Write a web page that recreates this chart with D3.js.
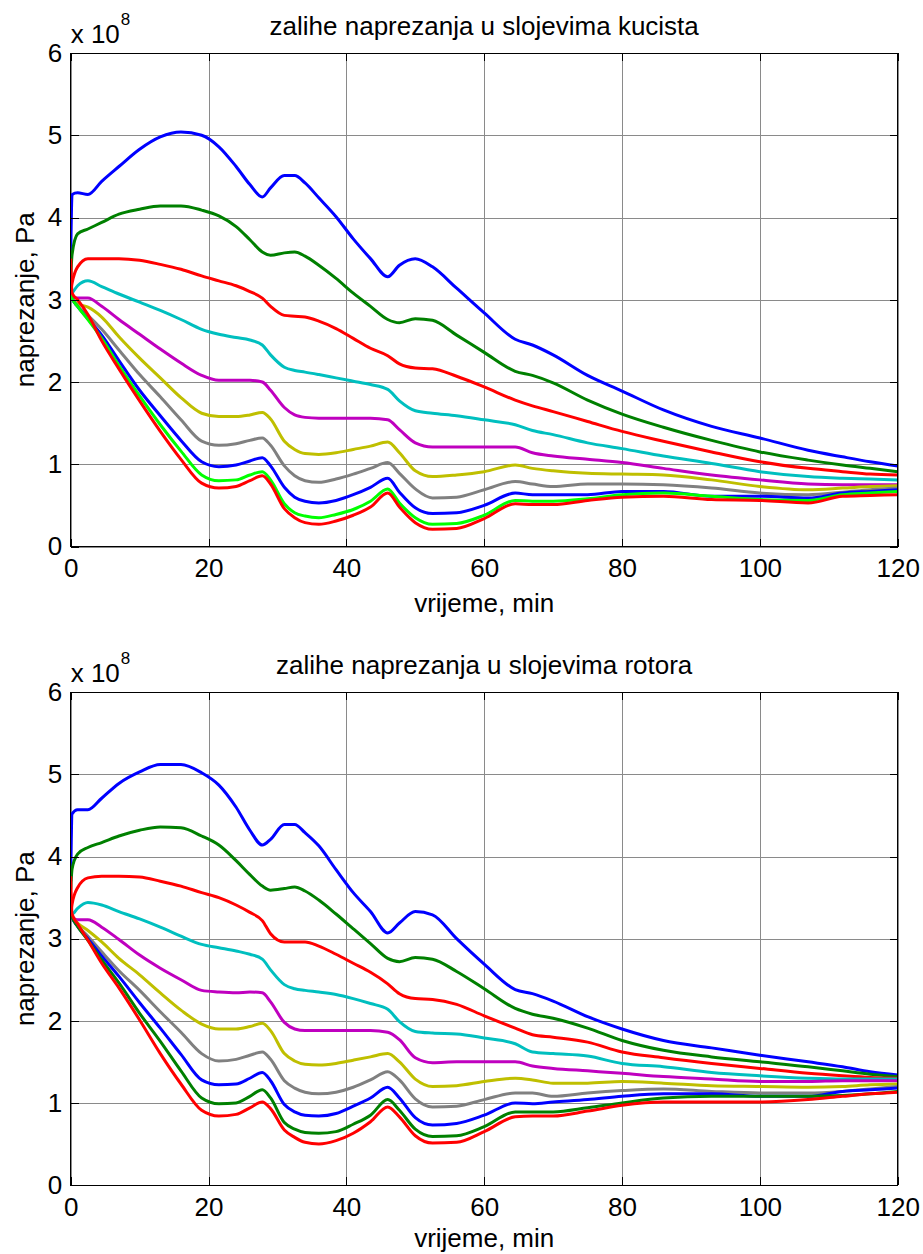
<!DOCTYPE html>
<html><head><meta charset="utf-8">
<script src="https://cdn.jsdelivr.net/npm/d3@7"></script>
<style>
body{margin:0;background:#fff}
svg{display:block}
text{font-family:"Liberation Sans",Arial,Helvetica,sans-serif;fill:#000}
</style>
</head><body>
<svg id="chart" width="923" height="1254"></svg>
<script>
// ---- data ----
const timeMin = [0,0.2,1,2.5,4.5,7,10,13,16,19,21.5,24,26,27.8,29,31,32.5,34,36,38.5,41,43.5,46,47.7,50,52.5,56,60,64.5,67,70,75,80,86,93,100,107,112,116,120];
const xTicks = [0,20,40,60,80,100,120];
const yTicks = [0,1,2,3,4,5,6];
const titleKucista = "zalihe naprezanja u slojevima kucista";
const titleRotor = "zalihe naprezanja u slojevima rotora";
const xLabel = "vrijeme, min";
const yLabel = "naprezanje, Pa";
const yExponent = "8";

// casing layers (x 1e8 Pa)
const kuc1 = [3.5,4.28,4.30,4.28,4.44,4.62,4.83,4.98,5.04,5.00,4.86,4.62,4.40,4.25,4.36,4.51,4.51,4.42,4.24,4.01,3.74,3.50,3.28,3.42,3.50,3.40,3.14,2.84,2.52,2.45,2.33,2.08,1.89,1.66,1.46,1.32,1.17,1.09,1.03,0.98];
const kuc2 = [3.25,3.55,3.80,3.86,3.94,4.04,4.10,4.14,4.14,4.09,4.02,3.89,3.73,3.58,3.54,3.57,3.58,3.53,3.42,3.26,3.08,2.92,2.76,2.72,2.77,2.75,2.57,2.36,2.13,2.08,1.99,1.78,1.61,1.45,1.29,1.15,1.05,0.99,0.95,0.91];
const kuc3 = [3.10,3.20,3.40,3.50,3.50,3.50,3.48,3.43,3.37,3.29,3.23,3.17,3.10,3.02,2.92,2.81,2.80,2.79,2.74,2.65,2.53,2.41,2.32,2.22,2.17,2.16,2.07,1.94,1.78,1.71,1.64,1.52,1.40,1.28,1.15,1.03,0.95,0.91,0.88,0.87];
const kuc4 = [3.06,3.08,3.17,3.23,3.16,3.07,2.97,2.87,2.76,2.64,2.58,2.54,2.51,2.45,2.33,2.18,2.14,2.12,2.09,2.05,2.01,1.97,1.91,1.77,1.65,1.62,1.59,1.54,1.48,1.41,1.36,1.26,1.19,1.10,1.01,0.91,0.85,0.83,0.82,0.81];
const kuc5 = [3.08,3.04,3.02,3.02,2.92,2.76,2.58,2.40,2.23,2.08,2.02,2.02,2.02,2.00,1.90,1.69,1.60,1.57,1.56,1.56,1.56,1.56,1.54,1.42,1.26,1.21,1.21,1.21,1.21,1.14,1.10,1.06,1.02,0.95,0.87,0.81,0.76,0.75,0.75,0.75];
const kuc6 = [3.08,3.02,2.95,2.91,2.79,2.55,2.29,2.05,1.81,1.62,1.58,1.58,1.60,1.63,1.55,1.28,1.18,1.13,1.12,1.14,1.18,1.22,1.27,1.14,0.92,0.85,0.87,0.91,0.99,0.95,0.92,0.89,0.88,0.87,0.81,0.73,0.69,0.71,0.73,0.74];
const kuc7 = [3.08,3.02,2.92,2.81,2.64,2.39,2.09,1.82,1.54,1.28,1.23,1.25,1.29,1.32,1.23,0.98,0.86,0.80,0.78,0.82,0.88,0.95,1.02,0.89,0.70,0.59,0.60,0.69,0.79,0.76,0.73,0.76,0.76,0.75,0.71,0.65,0.63,0.66,0.69,0.71];
const kuc8 = [3.08,3.02,2.92,2.77,2.57,2.26,1.90,1.59,1.29,1.03,0.97,0.99,1.04,1.08,0.98,0.72,0.60,0.55,0.53,0.56,0.63,0.72,0.83,0.66,0.47,0.40,0.41,0.50,0.65,0.63,0.63,0.63,0.67,0.67,0.61,0.61,0.59,0.65,0.67,0.69];
const kuc9 = [3.08,3.02,2.92,2.76,2.53,2.20,1.83,1.48,1.16,0.87,0.80,0.81,0.87,0.91,0.81,0.52,0.41,0.37,0.35,0.39,0.45,0.55,0.70,0.53,0.35,0.27,0.28,0.38,0.56,0.55,0.55,0.58,0.63,0.65,0.61,0.57,0.56,0.63,0.65,0.67];
const kuc10 = [3.50,3.08,3.00,2.82,2.50,2.16,1.77,1.40,1.06,0.77,0.71,0.73,0.80,0.86,0.76,0.46,0.35,0.29,0.27,0.31,0.38,0.48,0.65,0.48,0.29,0.21,0.22,0.34,0.52,0.51,0.51,0.56,0.60,0.61,0.57,0.56,0.53,0.61,0.62,0.63];

// rotor layers (x 1e8 Pa)
const rot1 = [3.70,4.52,4.57,4.57,4.71,4.89,5.03,5.12,5.12,5.02,4.87,4.60,4.32,4.14,4.21,4.39,4.39,4.29,4.13,3.84,3.56,3.33,3.07,3.19,3.33,3.29,3.00,2.69,2.38,2.33,2.24,2.05,1.90,1.76,1.67,1.58,1.50,1.44,1.38,1.34];
const rot2 = [3.60,3.85,4.03,4.11,4.17,4.25,4.32,4.36,4.35,4.25,4.14,3.95,3.78,3.64,3.59,3.61,3.63,3.58,3.47,3.30,3.12,2.94,2.76,2.72,2.77,2.75,2.60,2.39,2.15,2.08,2.03,1.91,1.76,1.64,1.56,1.50,1.44,1.39,1.35,1.32];
const rot3 = [3.31,3.42,3.62,3.74,3.76,3.76,3.75,3.70,3.64,3.56,3.50,3.41,3.32,3.22,3.06,2.96,2.96,2.96,2.91,2.81,2.70,2.59,2.45,2.33,2.27,2.26,2.20,2.06,1.91,1.83,1.80,1.74,1.62,1.55,1.48,1.42,1.36,1.33,1.31,1.30];
const rot4 = [3.31,3.30,3.37,3.44,3.41,3.33,3.24,3.14,3.03,2.93,2.89,2.85,2.81,2.75,2.62,2.44,2.39,2.37,2.35,2.32,2.27,2.21,2.14,1.99,1.87,1.85,1.84,1.79,1.72,1.62,1.60,1.57,1.48,1.44,1.37,1.33,1.30,1.29,1.29,1.29];
const rot5 = [3.31,3.27,3.23,3.23,3.14,2.99,2.80,2.64,2.50,2.37,2.35,2.34,2.35,2.34,2.23,1.98,1.90,1.88,1.88,1.88,1.88,1.88,1.86,1.77,1.55,1.49,1.50,1.50,1.50,1.45,1.42,1.39,1.36,1.32,1.29,1.26,1.26,1.27,1.27,1.27];
const rot6 = [3.31,3.27,3.19,3.10,2.96,2.76,2.56,2.34,2.13,1.96,1.90,1.90,1.93,1.97,1.88,1.60,1.51,1.47,1.46,1.48,1.52,1.56,1.60,1.50,1.29,1.20,1.21,1.26,1.30,1.28,1.24,1.24,1.26,1.24,1.21,1.20,1.19,1.20,1.22,1.23];
const rot7 = [3.31,3.26,3.16,3.03,2.84,2.61,2.37,2.11,1.86,1.60,1.51,1.53,1.58,1.62,1.53,1.27,1.18,1.13,1.11,1.13,1.19,1.28,1.38,1.28,1.05,0.95,0.96,1.04,1.12,1.12,1.08,1.12,1.15,1.17,1.14,1.12,1.12,1.14,1.17,1.20];
const rot8 = [3.31,3.26,3.15,3.00,2.79,2.54,2.22,1.91,1.59,1.28,1.22,1.23,1.30,1.37,1.27,0.98,0.89,0.85,0.84,0.87,0.96,1.06,1.19,1.06,0.82,0.73,0.75,0.85,1.00,0.99,1.01,1.04,1.08,1.11,1.11,1.08,1.08,1.14,1.16,1.18];
const rot9 = [3.31,3.26,3.15,2.98,2.74,2.46,2.09,1.75,1.39,1.06,0.99,1.00,1.08,1.16,1.06,0.76,0.68,0.64,0.63,0.65,0.74,0.85,1.04,0.91,0.68,0.59,0.60,0.71,0.89,0.89,0.89,0.94,1.00,1.06,1.08,1.08,1.08,1.09,1.11,1.14];
const rot10 = [3.76,3.30,3.18,2.98,2.70,2.40,2.01,1.60,1.23,0.91,0.84,0.86,0.94,1.01,0.93,0.67,0.58,0.52,0.50,0.54,0.63,0.77,0.95,0.83,0.60,0.51,0.52,0.65,0.83,0.84,0.84,0.90,0.97,1.01,1.01,1.01,1.04,1.08,1.11,1.13];

const coloursKucista = ["#0000ff","#008000","#ff0000","#00bfbf","#bf00bf","#bfbf00","#808080","#0000ff","#00ff00","#ff0000"];
const coloursRotor   = ["#0000ff","#008000","#ff0000","#00bfbf","#bf00bf","#bfbf00","#808080","#0000ff","#008000","#ff0000"];

// ---- drawing ----
const svg = d3.select("#chart");
const left = 70.7, right = 897.7;
const FS = 26;
const fmtInt = d3.format("d");

function panel(id, top, bottom, title, seriesList, colours, xlabOffset){
  const g = svg.append("g");
  const x = d3.scaleLinear().domain([0,120]).range([left,right]);
  const y = d3.scaleLinear().domain([0,6]).range([bottom,top]);
  const h = bottom - top, w = right - left;

  // grid
  g.append("g").attr("transform",`translate(0,${bottom})`)
    .call(d3.axisBottom(x).tickValues(xTicks).tickSize(-h).tickFormat(""))
    .call(a=>{a.select(".domain").remove(); a.selectAll("line").attr("stroke","#8a8a8a").attr("stroke-width",1).attr("shape-rendering","crispEdges");});
  g.append("g").attr("transform",`translate(${left},0)`)
    .call(d3.axisLeft(y).tickValues(yTicks).tickSize(-w).tickFormat(""))
    .call(a=>{a.select(".domain").remove(); a.selectAll("line").attr("stroke","#8a8a8a").attr("stroke-width",1).attr("shape-rendering","crispEdges");});

  // lines
  g.append("clipPath").attr("id","clip"+id).append("rect")
    .attr("x",left).attr("y",top-2).attr("width",w+2).attr("height",h+4);
  const line = d3.line().x((d,i)=>x(timeMin[i])).y(d=>y(d)).curve(d3.curveMonotoneX);
  const lg = g.append("g").attr("clip-path",`url(#clip${id})`);
  seriesList.forEach((s,k)=>{
    lg.append("path").attr("d",line(s)).attr("fill","none")
      .attr("stroke",colours[k]).attr("stroke-width",3).attr("stroke-linejoin","round");
  });

  // box
  g.append("rect").attr("x",left).attr("y",top).attr("width",w).attr("height",h)
    .attr("fill","none").attr("stroke","#000").attr("stroke-width",1).attr("shape-rendering","crispEdges");

  // axes with inward ticks
  const styleAxis = a=>{a.select(".domain").remove(); a.selectAll("line").attr("stroke","#000").attr("shape-rendering","crispEdges"); a.selectAll("text").attr("font-size",FS).attr("font-family",null);};
  g.append("g").attr("transform",`translate(0,${bottom})`)
    .call(d3.axisBottom(x).tickValues(xTicks).tickFormat(fmtInt).tickSizeInner(-8).tickSizeOuter(0).tickPadding(12.5)).call(styleAxis);
  g.append("g").attr("transform",`translate(${left},0)`)
    .call(d3.axisLeft(y).tickValues(yTicks).tickFormat(fmtInt).tickSizeInner(-8).tickSizeOuter(0).tickPadding(8.5)).call(styleAxis);
  g.append("g").attr("transform",`translate(0,${top})`)
    .call(d3.axisTop(x).tickValues(xTicks).tickSizeInner(-8).tickSizeOuter(0).tickFormat("")).call(styleAxis);
  g.append("g").attr("transform",`translate(${right},0)`)
    .call(d3.axisRight(y).tickValues(yTicks).tickSizeInner(-8).tickSizeOuter(0).tickFormat("")).call(styleAxis);

  // title
  g.append("text").attr("x",(left+right)/2).attr("y",top-18.5).attr("text-anchor","middle")
    .attr("font-size",FS).text(title);
  // exponent
  g.append("text").attr("x",left).attr("y",top-10).attr("font-size",FS).text("x 10");
  g.append("text").attr("x",left+50).attr("y",top-28.5).attr("font-size",17).text(yExponent);
  // x label
  g.append("text").attr("x",(left+right)/2).attr("y",bottom+xlabOffset).attr("text-anchor","middle")
    .attr("font-size",FS).text(xLabel);
  // y label
  g.append("text").attr("transform",`translate(34,${(top+bottom)/2}) rotate(-90)`)
    .attr("text-anchor","middle").attr("font-size",FS).text(yLabel);
}

panel("a", 53, 546.5, titleKucista, [kuc1,kuc2,kuc3,kuc4,kuc5,kuc6,kuc7,kuc8,kuc9,kuc10], coloursKucista, 65);
panel("b", 692.3, 1185, titleRotor, [rot1,rot2,rot3,rot4,rot5,rot6,rot7,rot8,rot9,rot10], coloursRotor, 62);
</script>
</body></html>
